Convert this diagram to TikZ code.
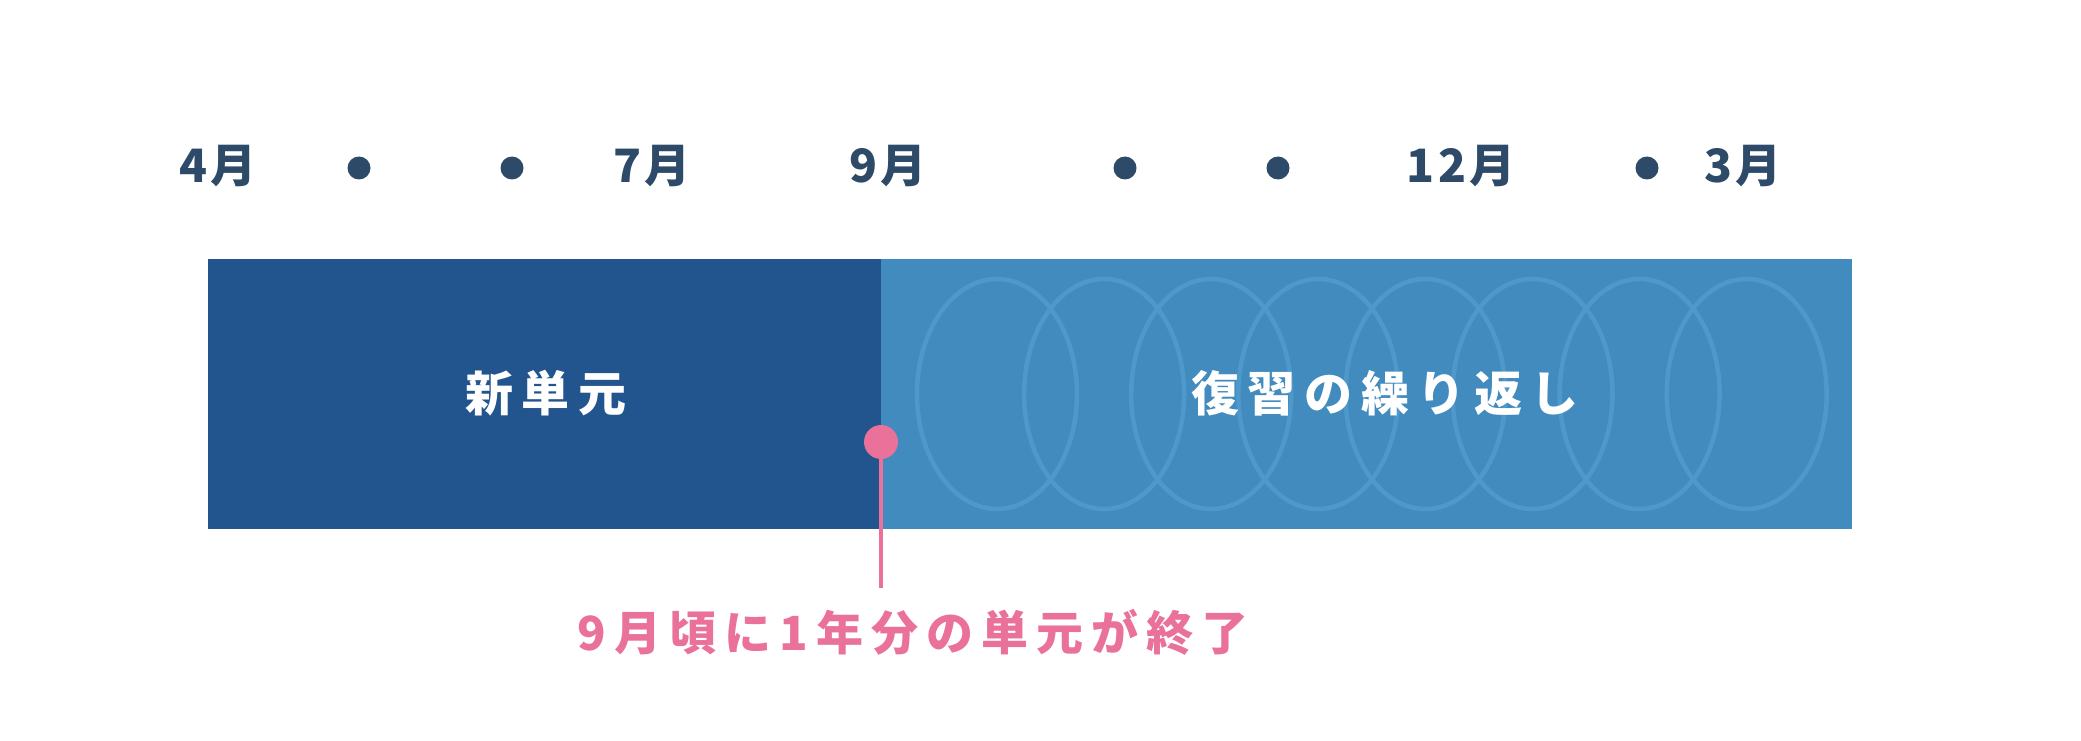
\documentclass[tikz,border=0pt]{standalone}
\usepackage{fontspec}
\newfontfamily\jp{Noto Sans CJK JP}
\definecolor{navy}{HTML}{2D4A69}
\definecolor{darkbar}{HTML}{22558E}
\definecolor{lightbar}{HTML}{428BBE}
\definecolor{ringcol}{HTML}{4F98CB}
\definecolor{pinkc}{HTML}{E9719A}
\tikzset{
  month/.style={font=\jp\bfseries\fontsize{46}{50}\selectfont\addfontfeatures{LetterSpace=8}, text=navy, inner sep=0pt},
  tick/.style={circle, fill=navy, minimum size=23pt, inner sep=0pt},
  barlabel/.style={font=\jp\bfseries\fontsize{48}{52}\selectfont\addfontfeatures{LetterSpace=18}, text=white, inner sep=0pt},
  ring/.style={draw=ringcol, line width=4.5pt},
  pinktext/.style={font=\jp\bfseries\fontsize{47}{52}\selectfont\addfontfeatures{LetterSpace=17}, text=pinkc, inner sep=0pt},
}
\begin{document}
\begin{tikzpicture}[x=1pt,y=-1pt]
\path[use as bounding box] (0,0) rectangle (2081,741);
% months
\node[month] (m4) at (218,166) {4月};
\node[tick] (d1) at (359,168) {};
\node[tick] (d2) at (512,168) {};
\node[month] (m7) at (652,166) {7月};
\node[month] (m9) at (888,166) {9月};
\node[tick] (d3) at (1125,168) {};
\node[tick] (d4) at (1278,168) {};
\node[month] (m12) at (1461,166) {12月};
\node[tick] (d5) at (1647,168) {};
\node[month] (m3) at (1743,166) {3月};
% bars
\fill[darkbar] (208,259) rectangle (881,529);
\fill[lightbar] (881,259) rectangle (1852,529);
\begin{scope}
\clip (881,259) rectangle (1852,529);
\foreach \i in {0,...,7}{
  \draw[ring] (997+107.1*\i,394) ellipse [x radius=80, y radius=115];
}
\end{scope}
\node[barlabel] (newunit) at (546,393) {新単元};
\node[barlabel] (review) at (1385,393) {復習の繰り返し};
% marker
\node[circle, fill=pinkc, minimum size=34pt, inner sep=0pt] (pdot) at (881,442) {};
\coordinate (pend) at (881,588);
\draw[pinkc, line width=4pt] (pdot.center) -- (pend);
\node[pinktext] (note) at (913,632) {9月頃に1年分の単元が終了};
\end{tikzpicture}
\end{document}
